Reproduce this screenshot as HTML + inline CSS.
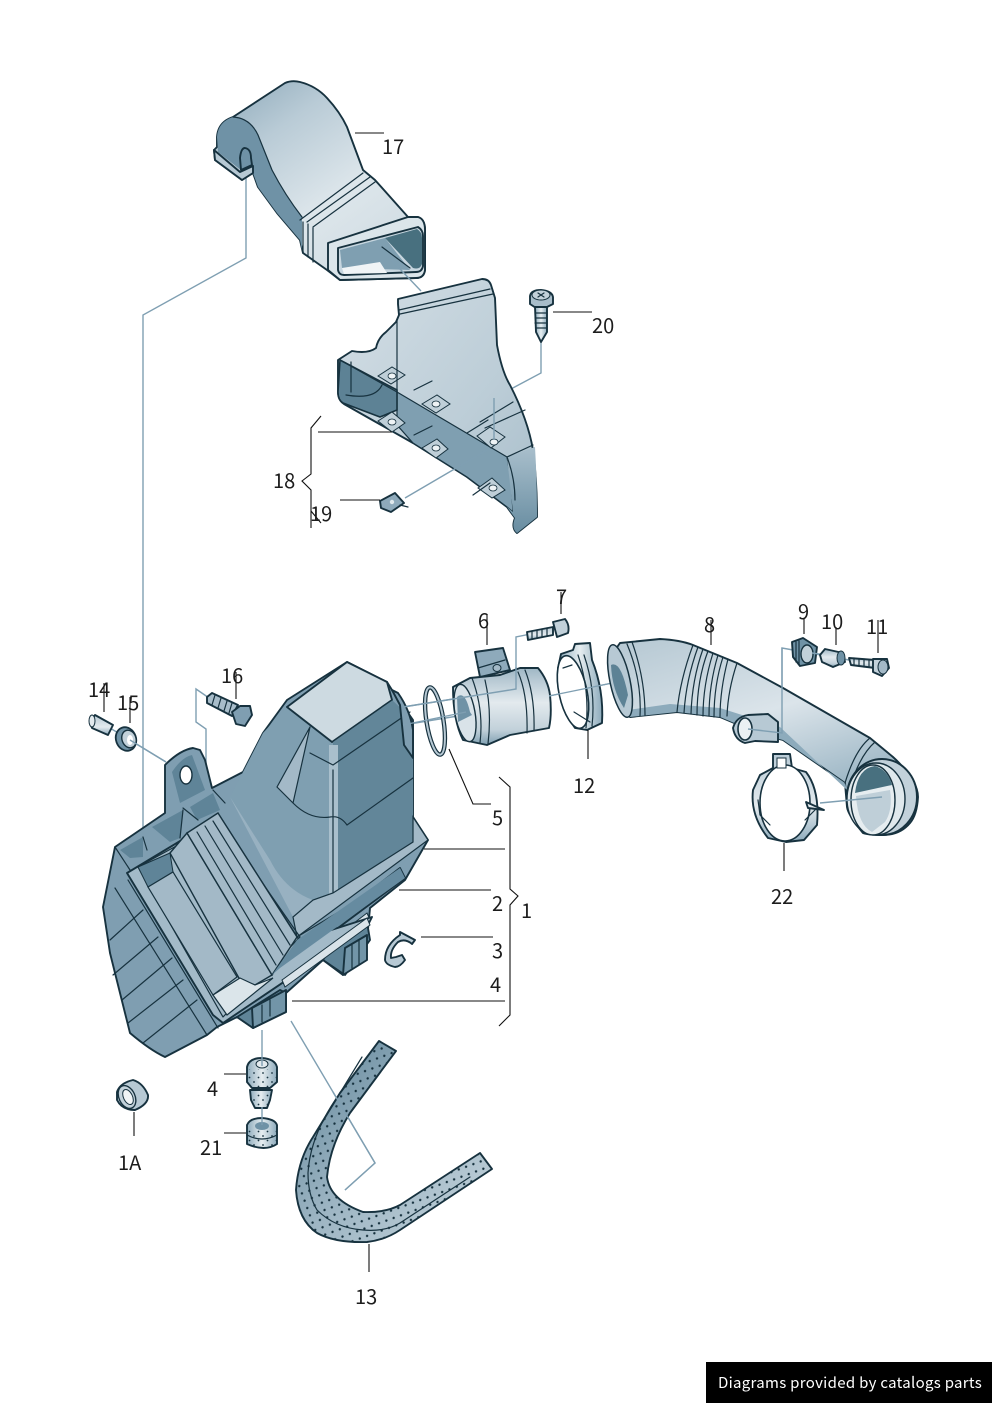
<!DOCTYPE html>
<html><head><meta charset="utf-8"><style>
html,body{margin:0;padding:0;background:#fff}
svg{display:block}
text{font-family:"Noto Sans CJK JP","Liberation Sans",sans-serif;font-size:20px;fill:#1c1c1c}
.o{stroke:#17323f;stroke-width:1.9;stroke-linejoin:round;stroke-linecap:round}
.t{stroke:#17323f;stroke-width:1.2;fill:none;stroke-linejoin:round;stroke-linecap:round}
.l{stroke:#111;stroke-width:1.1;fill:none}
.c{stroke:#7f9fb2;stroke-width:1.4;fill:none}
</style></head><body>
<svg width="992" height="1403" viewBox="0 0 992 1403" xmlns="http://www.w3.org/2000/svg">
<defs>
<linearGradient id="duct" x1="0" y1="0" x2=".75" y2="1"><stop offset="0" stop-color="#8aa7b8"/><stop offset=".3" stop-color="#b9cbd6"/><stop offset=".65" stop-color="#dde6eb"/><stop offset="1" stop-color="#cfdbe2"/></linearGradient>
<linearGradient id="hose" x1="0" y1="0" x2="0" y2="1"><stop offset="0" stop-color="#9fb7c5"/><stop offset=".45" stop-color="#e3eaee"/><stop offset=".8" stop-color="#c2d1da"/><stop offset="1" stop-color="#7f9fb1"/></linearGradient>
<linearGradient id="hose2" x1="0" y1="0" x2=".5" y2="1"><stop offset="0" stop-color="#b4c7d2"/><stop offset=".5" stop-color="#dbe4ea"/><stop offset="1" stop-color="#8dabbc"/></linearGradient>
<linearGradient id="shield" x1="0" y1="0" x2="1" y2="1"><stop offset="0" stop-color="#d3dee5"/><stop offset=".6" stop-color="#bccdd7"/><stop offset="1" stop-color="#a6bcc9"/></linearGradient>
<linearGradient id="side" x1="0" y1="0" x2="0" y2="1"><stop offset="0" stop-color="#a9bfcc"/><stop offset="1" stop-color="#688da1"/></linearGradient>
<linearGradient id="metal" x1="0" y1="0" x2="1" y2="0"><stop offset="0" stop-color="#8dabbc"/><stop offset=".5" stop-color="#e6edf0"/><stop offset="1" stop-color="#8dabbc"/></linearGradient>
<linearGradient id="ring" x1="0" y1="0" x2="0" y2="1"><stop offset="0" stop-color="#b9cbd6"/><stop offset=".6" stop-color="#e3eaee"/><stop offset="1" stop-color="#8dabbc"/></linearGradient>
<linearGradient id="strip" x1="0" y1="0" x2="1" y2="1"><stop offset="0" stop-color="#5f8498"/><stop offset=".5" stop-color="#9db5c3"/><stop offset="1" stop-color="#c6d5dd"/></linearGradient>
<linearGradient id="band" x1="0" y1="0" x2="1" y2="0"><stop offset="0" stop-color="#a3bac8"/><stop offset=".5" stop-color="#7b9bae"/><stop offset="1" stop-color="#628699"/></linearGradient>
<pattern id="dots" width="11" height="11" patternUnits="userSpaceOnUse" patternTransform="rotate(25)"><circle cx="2.5" cy="2.5" r="1.2" fill="#17323f"/><circle cx="8" cy="8" r="1.2" fill="#17323f"/></pattern>
<pattern id="dots2" width="9" height="9" patternUnits="userSpaceOnUse"><circle cx="2" cy="2" r=".9" fill="#17323f"/><circle cx="6.5" cy="6.5" r=".9" fill="#17323f"/></pattern>
</defs>

<!-- connector lines behind -->
<g class="c">
<path d="M246 178V258L143 315V855"/>
<path d="M541 335V373L494 398V440"/>
<path d="M291 1021L375 1163L345 1190"/>
<path d="M110 728L166 762"/>
<path d="M212 700L196 689V722L206 729V785L180 770"/>
<path d="M403 707L516 689V637L540 632"/>
<path d="M403 725L470 714"/>
<path d="M877 665L782 648V732L745 730"/>
</g>

<!-- 17 duct -->
<path class="o" fill="url(#duct)" d="M217 137Q218 122 233 117L285 83Q292 80 300 82Q316 86 327 98Q340 112 347 127L363 170L375 180L408 217H418Q425 219 425 230V270Q424 278 416 278L340 280L327 270L303 253L300 240L277 213L258 187L253 173L242 180L215 160L214 150L217 147Z"/>
<path fill="#6f92a6" d="M217 137Q218 122 233 117Q250 118 258 135Q264 150 272 170Q285 195 302 217V250L300 240L277 213L258 187L253 173L242 171L218 152Z"/>
<path class="t" d="M233 117Q250 118 258 135Q264 150 272 170Q285 195 302 217"/>
<path class="o" fill="#b7c9d4" d="M214 150L240 172L253 166V173L242 180L215 160Z"/>
<path class="o" fill="#6f92a6" d="M240 158Q241 148 245 148Q251 149 251 158L252 165L241 170Z"/>
<path class="t" d="M300 220L363 173M307 222L370 177M313 227L375 182M303 222V253M308 224V257M313 228V262"/>
<path class="o" fill="#dbe5ea" d="M328 243L408 217H418Q425 219 425 230V270Q424 278 416 278L340 280L328 270Z"/>
<path class="o" fill="#c7d6df" d="M338 248L418 227Q423 230 423 236V266Q422 272 416 272L344 275Q339 275 338 270Z"/>
<path fill="#7f9fb1" d="M340 250L385 238L410 270L342 268Z"/>
<path fill="#48707f" d="M385 238L417 229Q422 232 422 238V264Q420 270 413 268Z"/>
<path fill="#f0f4f6" d="M342 268L380 262L387 273L344 274Z"/>
<path class="t" d="M382 247L410 268"/>
<path class="c" d="M380 248L421 291"/>

<!-- 18 shield -->
<path class="o" fill="url(#shield)" d="M398 304V299L482 279Q489 279 491 285L495 298L497 345Q502 372 510 385Q528 420 533 450Q537 480 537 517L517 533Q511 528 515 518L507 507L467 477L413 443L344 404Q338 400 338 392V360L352 351Q368 354 376 348Q378 338 386 332L396 322L399 315Z"/>
<path class="t" d="M399 310L490 289M400 314L493 294"/>
<path fill="#7f9fb1" stroke="#17323f" stroke-width="1.2" d="M397 392L507 457L511 480L513 512L507 507L467 477L413 443L397 425Z"/>
<path fill="url(#side)" d="M507 457L535 447Q537 480 537 517L517 533Q511 528 515 518L507 507L513 512Z"/>
<path class="t" d="M507 457L533 445M507 457Q515 478 515 500"/>
<path fill="#5d8295" stroke="#17323f" stroke-width="1.6" d="M340 360L397 390V410L380 417L343 403Q338 400 338 392Z"/>
<path class="t" d="M340 360L397 392M351 362V392M346 395Q375 400 382 385"/>
<g fill="#bfcfd8" stroke="#17323f" stroke-width="1">
<path d="M378 376L392 367L405 375L391 384Z"/><path d="M378 421L392 412L405 423L392 432Z"/>
<path d="M422 404L437 395L450 404L436 413Z"/><path d="M422 448L437 439L448 449L436 458Z"/>
<path d="M477 436L490 427L505 437L491 448Z"/><path d="M478 488L492 478L505 490L492 498Z"/>
</g>
<g fill="#eef3f5" stroke="#17323f" stroke-width=".8">
<ellipse cx="392" cy="376" rx="4" ry="3"/><ellipse cx="392" cy="422" rx="4" ry="3"/>
<ellipse cx="436" cy="404" rx="4" ry="3"/><ellipse cx="436" cy="448" rx="4" ry="3"/>
<ellipse cx="494" cy="442" rx="4" ry="3"/><ellipse cx="493" cy="488" rx="4" ry="3"/>
</g>
<path class="t" d="M414 390L432 381M414 435L432 426M467 433L488 420M480 422L513 402M485 428L525 410M473 495L490 483"/>
<path class="t" d="M397 320V392"/>
<path class="c" d="M487 450L405 498M494 398V440"/>

<!-- 19 clip -->
<path class="o" fill="#8eaabb" d="M380 501L395 493L404 503L391 512L381 508Z"/>
<circle cx="392" cy="502" r="2.2" fill="#dfe8ec"/>
<path class="t" d="M400 505L408 507"/>

<!-- 20 screw -->
<path class="o" fill="#a8bdca" d="M530 296Q531 290 541 290Q552 291 553 297V304L545 308H536L530 304Z"/>
<ellipse cx="541" cy="295" rx="9" ry="5" fill="#c2d1da" stroke="#17323f" stroke-width="1"/>
<path class="t" d="M538 293L544 297M544 293L538 297"/>
<path class="o" fill="url(#metal)" d="M535 307H547V332L541 342L536 332Z"/>
<path class="t" d="M535 313H547M535 318H547M535 323H547M536 328H546"/>

<!-- air box body -->
<path class="o" fill="#7f9eb1" d="M115 847L165 813V765Q180 750 193 748L200 750L205 760L212 788L243 772L263 733L287 700L347 662L387 682L392 690L413 720V817L428 840L405 880L370 908L367 940L343 975L323 960L286 993L283 1012L253 1028L237 1017L217 1027L207 1035L165 1057Q150 1050 130 1033L110 953L103 907Z"/>
<!-- bracket -->
<path fill="#5f8498" d="M172 772Q182 757 192 755L205 790L180 803Z"/>
<ellipse cx="186" cy="775" rx="6" ry="9" fill="#fff" stroke="#17323f" stroke-width="1.4"/>
<!-- housing -->
<path fill="#7f9fb1" d="M287 707L333 741V893L313 900L293 917L230 797L243 772L263 733Z"/>
<path fill="#a3b9c7" d="M310 727L293 803L277 787Z"/>
<path fill="#a3b9c7" d="M230 797L293 917L313 900Q285 890 270 860Z" opacity=".7"/>
<path class="o" fill="#cddae1" d="M287 707L347 662L387 682L392 700L332 742Z"/>
<path fill="#628699" d="M392 700L405 712L413 730V842L333 893V741Z"/>
<path fill="#a9bfcc" d="M329 745H338V897H329Z"/>
<path class="t" d="M332 742L392 700M310 753L333 765L410 712M293 803Q310 820 330 817Q340 815 347 825L413 778M333 770V893M310 727L293 803L277 787Z"/>
<path class="o" fill="#7f9eb1" d="M392 690L398 693Q410 710 413 730V758L404 745L400 705Z"/>
<path fill="#a3b9c7" stroke="#17323f" stroke-width="1.2" d="M413 817L428 840L297 937L293 917L313 900L333 893L413 842Z"/>
<!-- ledge strips -->
<path class="o" fill="#6c90a4" d="M400 868L405 878L275 975L272 975L280 960Z"/>
<path class="t" d="M297 937L397 877"/>
<path fill="#d9e3e9" stroke="#17323f" stroke-width="1" d="M280 980L367 913L370 920L285 985Z"/>
<!-- feet -->
<path class="o" fill="#5f8498" d="M337 938L367 922L370 940L345 975L323 960Z"/>
<path class="o" fill="#7295a8" d="M345 948L367 935V960L343 975Z"/>
<path class="t" d="M352 945V968M359 940V964"/>
<path class="o" fill="#5f8498" d="M237 1017L280 990L286 993V1012L253 1028Z"/>
<path class="o" fill="#7295a8" d="M252 1008L286 990V1012L253 1028Z"/>
<path class="t" d="M262 1005V1022M270 1000V1016"/>
<!-- rim pockets -->
<path fill="#5f8498" d="M120 850L143 837V857L130 858ZM152 827L183 810L180 838L170 842ZM190 807L213 793L220 810L197 820Z"/>
<path class="t" d="M115 847L130 870M143 837L147 850M183 810L180 838M183 808L198 820M213 790L225 803"/>
<!-- lid frame -->
<path class="o" fill="#a3bac8" d="M127 873L220 817L297 937L300 940L372 917L368 925L223 1023L213 1015Z"/>
<path class="t" d="M138 867L220 822L300 937L223 1017Z"/>
<path fill="#5f8498" stroke="#17323f" stroke-width="1" d="M138 867L170 853L173 872L148 887Z"/>
<path fill="#a3b9c7" stroke="#17323f" stroke-width="1.2" d="M148 887L173 872L237 977L213 995Z"/>
<path fill="#a3b9c7" stroke="#17323f" stroke-width="1.4" d="M170 853L187 833L272 975L255 985L240 980Z"/>
<path fill="#a3b9c7" stroke="#17323f" stroke-width="1.4" d="M187 833L218 813L297 937L272 975Z"/>
<path class="t" d="M197 832L276 965M205 826L283 955M213 821L290 945"/>
<path fill="#dbe5ea" stroke="#17323f" stroke-width="1.2" d="M213 995L240 978L255 985L273 978L227 1015Z"/>
<path fill="#668ba0" d="M272 975L297 940L400 868L405 878L280 968Z"/>
<path fill="#d9e3e9" stroke="#17323f" stroke-width="1" d="M282 980L367 918L370 925L285 987Z"/>
<!-- side ribs -->
<g class="t" stroke-width="1.8">
<path d="M110 940L143 910M113 975L158 937M122 1000L172 958M128 1023L183 980M143 1043L197 1000"/>
<path d="M115 888L207 1035M128 880L218 1028"/>
</g>

<!-- 1A -->
<path class="o" fill="#b7c9d4" d="M117 1092Q120 1083 133 1080Q143 1083 148 1095Q149 1104 135 1110Q122 1110 117 1100Z"/>
<ellipse cx="127" cy="1097" rx="8" ry="12" fill="#c2d1da" stroke="#17323f" stroke-width="1.4" transform="rotate(-25 127 1097)"/>
<ellipse cx="128" cy="1097" rx="4.5" ry="8" fill="#f0f4f6" stroke="#17323f" stroke-width="1" transform="rotate(-25 128 1097)"/>
<!-- 4 grommets -->
<path class="o" fill="url(#metal)" d="M247 1067Q249 1058 262 1058Q275 1059 277 1067V1082L270 1088H252L247 1082Z"/>
<path class="o" fill="url(#metal)" d="M250 1090H272L270 1100L267 1108H255L251 1100Z"/>
<path class="o" fill="url(#metal)" d="M247 1125Q250 1118 262 1118Q275 1119 277 1125V1144Q265 1152 247 1144Z"/>
<ellipse cx="262" cy="1126" rx="7" ry="4" fill="#6f92a6"/>
<ellipse cx="262" cy="1064" rx="6" ry="4" fill="#e3eaee" stroke="#17323f" stroke-width="1"/>
<path fill="url(#dots2)" d="M247 1069H277V1082L270 1088H252L247 1082ZM251 1092H272L267 1108H255ZM247 1130H277V1144Q265 1152 247 1144Z"/>
<path class="t" d="M247 1135Q262 1143 277 1135"/>
<path class="c" d="M262 1030V1066M262 1107V1125"/>

<!-- 13 strip -->
<path class="o" fill="url(#strip)" d="M379 1041L396 1051L350 1113Q330 1145 327 1177Q330 1200 363 1212Q385 1213 400 1205L480 1153L492 1169L400 1230Q385 1240 367 1242Q335 1243 317 1233Q298 1220 296 1190Q298 1160 313 1137L340 1093Z"/>
<path fill="url(#dots)" d="M379 1041L396 1051L350 1113Q330 1145 327 1177Q330 1200 363 1212Q385 1213 400 1205L480 1153L492 1169L400 1230Q385 1240 367 1242Q335 1243 317 1233Q298 1220 296 1190Q298 1160 313 1137L340 1093Z"/>
<path class="t" d="M362 1057L340 1093Q310 1135 308 1173Q308 1195 317 1210Q335 1228 363 1230Q385 1232 400 1223L470 1177"/>
<path class="c" d="M333 1092L375 1163L345 1190"/>

<!-- 5 o-ring -->
<ellipse cx="435" cy="721" rx="8.5" ry="34" fill="none" stroke="#17323f" stroke-width="4.4" transform="rotate(-9 435 721)"/>
<ellipse cx="435" cy="721" rx="8.5" ry="34" fill="none" stroke="#b7c9d4" stroke-width="2" transform="rotate(-9 435 721)"/>

<!-- 6 MAF -->
<path class="o" fill="#8eaabb" d="M475 652L503 648L510 670L480 677Z"/>
<path class="t" d="M478 668L505 660"/>
<ellipse cx="497" cy="668" rx="4" ry="3.5" fill="#a3b9c7" stroke="#17323f"/>
<path class="o" fill="url(#hose)" d="M470 678L500 675L520 668H538Q548 680 550 695Q552 715 549 728L510 735L487 745L463 740Q453 720 453 687Z"/>
<path class="t" d="M518 672Q528 695 527 733M525 670Q535 695 534 731M472 678Q484 710 480 743M485 680Q492 710 488 744"/>
<ellipse cx="465" cy="713" rx="10" ry="29" fill="#d9e3e9" stroke="#17323f" stroke-width="1.4" transform="rotate(-10 465 713)"/>
<path fill="#6f92a6" d="M457 697Q465 690 470 712L472 715L458 722Z"/>
<path class="c" d="M403 707L516 689V667M403 725L466 712M549 696L622 681"/>

<!-- 7 -->
<path class="o" fill="url(#ring)" d="M527 632L553 627V635L528 640Z"/>
<path class="o" fill="#c2d1da" d="M553 622L565 619Q570 625 568 633L557 637Z"/>
<path class="t" d="M532 631V639M537 630V638M542 629V637M547 628V636"/>

<!-- 12 clamp -->
<path class="o" fill="url(#metal)" d="M561 654L573 650L575 644L590 643L592 660Q604 690 602 723L587 730L575 728Q555 700 558 668Z"/>
<ellipse cx="573" cy="692" rx="14" ry="37" fill="#fff" stroke="#17323f" stroke-width="1.6" transform="rotate(-12 573 692)"/>
<path class="t" d="M578 655Q590 690 586 728M584 655Q596 690 592 726M563 668L572 665M574 712L590 722"/>
<path class="c" d="M549 696L622 681"/>

<!-- 8 hose -->
<path class="o" fill="url(#hose2)" d="M608 660L620 643L660 639Q680 640 693 645L737 663L783 688L870 738L893 757Q918 780 918 797Q917 815 910 823Q900 835 883 835Q868 835 863 833Q848 815 847 807L845 783L783 740L763 735L720 717L677 712L630 717Q615 705 610 680Z"/>
<path fill="#8dabbc" d="M630 717L677 712L720 717L763 735L783 740L845 783L847 790L780 727L720 708L670 704L628 710Z"/>
<ellipse cx="620" cy="681" rx="10" ry="37" fill="#b7c9d4" stroke="#17323f" stroke-width="1.5" transform="rotate(-12 620 681)"/>
<path fill="#5d8295" d="M611 665Q621 660 628 695L624 708Q612 690 611 665Z"/>
<path class="t" d="M627 644Q642 680 640 716M632 642Q645 678 645 715"/>
<g class="t">
<path d="M693 645Q680 680 677 712M698 647Q686 680 684 713M703 649Q692 680 691 714M708 651Q697 680 697 715M713 653Q703 685 703 716M718 655Q709 685 709 716M723 657Q714 685 714 717M728 659Q720 690 720 717M737 663Q728 690 727 716"/>
</g>
<path class="t" d="M845 783Q855 750 870 738M850 787Q860 755 875 742"/>
<ellipse cx="882" cy="797" rx="35" ry="38" fill="#c2d1da" stroke="#17323f" stroke-width="2"/>
<ellipse cx="876" cy="799" rx="29" ry="36" fill="#dfe8ec" stroke="#17323f" stroke-width="1.4"/>
<ellipse cx="873" cy="800" rx="22" ry="35" fill="#e6edf0" stroke="#17323f" stroke-width="1.4"/>
<path fill="#48707f" d="M855 793Q858 768 875 766Q888 770 892 785Z"/>
<path fill="#bfcfd8" d="M856 796L890 790Q893 810 885 822L872 832Q858 825 856 796Z"/>
<!-- lug -->
<path class="o" fill="#b7c9d4" d="M733 728Q736 717 748 715L768 714L778 722V742L755 741L745 743Q735 740 733 728Z"/>
<ellipse cx="745" cy="729" rx="7" ry="11" fill="#eaf0f3" stroke="#17323f" stroke-width="1.6"/>
<path class="c" d="M782 648V733L748 729"/>

<!-- 9 10 11 -->
<path class="o" fill="#6f92a6" d="M792 642L803 638L817 647L815 663L800 666L793 657Z"/>
<ellipse cx="807" cy="654" rx="6" ry="9" fill="#c2d1da" stroke="#17323f" stroke-width="1.4"/>
<path class="t" d="M796 642V662M799 641V664"/>
<path class="c" d="M812 653L840 657"/>
<path class="o" fill="url(#hose)" d="M820 655L825 649L843 653L845 662L833 667L822 662Z"/>
<ellipse cx="841" cy="658" rx="4" ry="7" fill="#6f92a6" stroke="#17323f"/>
<path class="o" fill="url(#hose)" d="M849 658L875 660V668L851 665Z"/>
<path class="o" fill="#c2d1da" d="M873 659L887 659L889 668L882 676L873 672Z"/>
<ellipse cx="883" cy="667" rx="5" ry="7" fill="#a3b9c7" stroke="#17323f"/>
<path class="t" d="M854 658V665M859 659V666M864 659V667M869 660V667"/>

<!-- 22 clamp -->
<path class="o" fill="url(#ring)" d="M773 754H790L792 768L806 772Q820 790 817 825L804 840L786 842L768 838Q750 815 753 790L760 775L773 768Z"/>
<ellipse cx="785" cy="803" rx="25" ry="38" fill="#fff" stroke="#17323f" stroke-width="1.6"/>
<path d="M777 758H786V768H777Z" fill="#fff" stroke="#17323f"/>
<path class="t" d="M758 800L760 815L770 825M805 820L815 810"/>
<path class="o" fill="#e6edf0" d="M806 802L824 810L808 808Z"/>
<path class="c" d="M820 803L882 797"/>

<!-- 14 15 16 -->
<path class="o" fill="url(#ring)" d="M90 722L95 715L113 725L108 735L92 728Z"/>
<ellipse cx="92" cy="721" rx="3" ry="6" fill="#e3eaee" stroke="#17323f"/>
<ellipse cx="126" cy="739" rx="10" ry="12" fill="#6f92a6" stroke="#17323f" stroke-width="1.8" transform="rotate(-20 126 739)"/>
<ellipse cx="129" cy="739" rx="7" ry="9" fill="#c2d1da" stroke="#17323f" stroke-width="1.4" transform="rotate(-20 129 739)"/>
<ellipse cx="130" cy="740" rx="3" ry="5" fill="#fff"/>
<path class="c" d="M130 740L166 762"/>
<path class="o" fill="#a8bdca" d="M207 697L212 693L238 705L232 716L207 703Z"/>
<path class="o" fill="#7f9eb1" d="M232 712L240 706L250 706L252 715L245 726L236 724Z"/>
<path class="t" d="M215 695L212 705M221 698L218 708M227 701L224 711M232 703L229 713"/>

<!-- leader lines -->
<g class="l">
<path d="M355 133H384"/>
<path d="M553 312H592"/>
<path d="M318 432H392"/>
<path d="M321 416L311 428V474L302 481L311 490V528M311 511L321 523"/>
<path d="M340 500H380"/>
<path d="M104 683V712"/><path d="M130 697V723"/><path d="M236 672V699"/>
<path d="M561 592V614"/><path d="M487 615V645"/><path d="M711 620V645"/>
<path d="M804 618V634"/><path d="M836 627V645"/><path d="M878 620V653"/>
<path d="M449 749L473 804H491"/>
<path d="M588 730V759"/><path d="M784 843V871"/>
<path d="M499 777L510 787V889L518 896L510 905V1015L499 1026"/>
<path d="M424 849H505"/><path d="M399 890H491"/><path d="M421 937H493"/><path d="M292 1001H505"/>
<path d="M224 1074H246"/><path d="M224 1133H246"/>
<path d="M134 1112V1136"/><path d="M369 1244V1272"/>
</g>

<!-- 3 clip -->
<path class="o" fill="#b7c9d4" d="M400 932L415 940L412 944Q405 938 398 942Q390 950 391 958L396 957L402 955L405 960Q400 967 395 967Q386 965 385 960Q385 945 400 935Z"/>

<!-- labels -->
<text x="382" y="154">17</text><text x="592" y="333">20</text>
<text x="273" y="488">18</text><text x="310" y="521">19</text>
<text x="88" y="697">14</text><text x="117" y="710">15</text><text x="221" y="683">16</text>
<text x="556" y="604">7</text><text x="478" y="628">6</text><text x="704" y="632">8</text>
<text x="798" y="619">9</text><text x="821" y="629">10</text><text x="866" y="634">11</text>
<text x="492" y="825">5</text><text x="573" y="793">12</text><text x="771" y="904">22</text>
<text x="521" y="918">1</text><text x="492" y="911">2</text><text x="492" y="958">3</text><text x="490" y="992">4</text>
<text x="207" y="1096">4</text><text x="200" y="1155">21</text><text x="118" y="1170">1A</text><text x="355" y="1304">13</text>

<rect x="706" y="1362" width="286" height="41" fill="#000"/>
<text x="718" y="1388" style="font-size:15px;fill:#fff;letter-spacing:.3px">Diagrams provided by catalogs parts</text>
</svg>
</body></html>
